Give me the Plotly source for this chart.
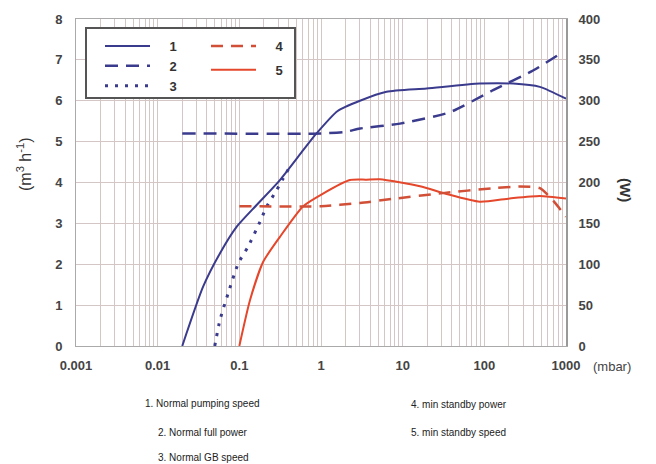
import plotly.graph_objects as go

# ---- data ----
x_tick_vals = [0.001, 0.01, 0.1, 1, 10, 100, 1000]
x_tick_text = ["0.001", "0.01", "0.1", "1", "10", "100", "1000"]

# 1. Normal pumping speed (m3/h, left axis)
s1_x = [0.02, 0.036, 0.058, 0.093, 0.163, 0.314, 0.605, 0.88, 1.6, 3.0, 6.35, 19.6, 88, 225, 478, 1000]
s1_y = [0, 1.45, 2.27, 2.92, 3.45, 4.06, 4.79, 5.2, 5.75, 6.0, 6.22, 6.30, 6.42, 6.42, 6.34, 6.05]

# 2. Normal full power (W, right axis)
s2_x = [0.02, 1, 2, 3, 9.25, 37.8, 128, 395, 800]
s2_y = [260, 260, 262, 266, 272, 286, 313, 337, 356]

# 3. Normal GB speed (m3/h, left axis)
s3_x = [0.05, 0.058, 0.073, 0.097, 0.128, 0.179, 0.216, 0.286, 0.344, 0.42]
s3_y = [0, 0.64, 1.29, 2.02, 2.43, 3.04, 3.41, 3.81, 4.1, 4.4]

# 4. min standby power (W, right axis)
s4_x = [0.1, 1, 3, 7.65, 31, 128, 272, 478, 695, 1000]
s4_y = [171, 171, 175, 180, 187, 193, 195, 193, 178, 158]

# 5. min standby speed (m3/h, left axis)
s5_x = [0.1, 0.135, 0.196, 0.314, 0.605, 1.06, 2.26, 3.6, 5.26, 16.3, 34.4, 88, 205, 478, 1000]
s5_y = [0, 1.12, 2.06, 2.67, 3.42, 3.73, 4.06, 4.07, 4.08, 3.91, 3.72, 3.53, 3.61, 3.67, 3.61]

labels = ["1", "2", "3", "4", "5"]
notes_left = ["1. Normal pumping speed", "2. Normal full power", "3. Normal GB speed"]
notes_right = ["4. min standby power", "5. min standby speed"]

BLUE = "#3b3b8e"
RED = "#e4472b"
RED_D = "#d24f37"
GRID = "#d3c6c4"
FONT = "Liberation Sans, Arial, sans-serif"

# page body has an 8px default margin; work in window pixels and compensate
OFF = 8
L, R, T, B = 76, 566, 19, 346
W_, H_ = 656, 464


def px(xp):
    return (xp - L) / (R - L)


def py(yp):
    return (B - yp) / (B - T)


pad = "\u00a0" * 4

fig = go.Figure()
fig.add_trace(go.Scatter(x=s1_x, y=s1_y, mode="lines", name=pad + labels[0],
                         line=dict(color=BLUE, width=2, shape="spline", smoothing=0.6),
                         legend="legend", legendgroup="g1"))
fig.add_trace(go.Scatter(x=s2_x, y=s2_y, mode="lines", name=pad + labels[1], yaxis="y2",
                         line=dict(color=BLUE, width=2.5, dash="13px,8px", shape="spline", smoothing=0.6),
                         legend="legend", legendgroup="g2"))
fig.add_trace(go.Scatter(x=s3_x, y=s3_y, mode="lines", name=pad + labels[2],
                         line=dict(color=BLUE, width=3, dash="3px,7px", shape="spline", smoothing=0.6),
                         legend="legend", legendgroup="g3"))
fig.add_trace(go.Scatter(x=s4_x, y=s4_y, mode="lines", name=pad + labels[3], yaxis="y2",
                         line=dict(color=RED_D, width=2.5, dash="12px,8px", shape="spline", smoothing=0.6),
                         legend="legend2", legendgroup="g4"))
fig.add_trace(go.Scatter(x=s5_x, y=s5_y, mode="lines", name=pad + labels[4],
                         line=dict(color=RED, width=2, shape="spline", smoothing=0.6),
                         legend="legend2", legendgroup="g5"))

axfont = dict(family=FONT, size=13, color="#444", weight="bold")

fig.update_layout(
    width=W_ - OFF, height=H_ - OFF,
    margin=dict(l=L - OFF, r=W_ - R, t=T - OFF, b=H_ - B, autoexpand=False),
    paper_bgcolor="white", plot_bgcolor="white",
    xaxis=dict(type="log", range=[-3, 3], tickvals=x_tick_vals, ticktext=x_tick_text,
               showgrid=True, gridcolor=GRID, gridwidth=1,
               minor=dict(showgrid=True, gridcolor=GRID, gridwidth=1, dtick="D1", ticks=""),
               showline=True, linecolor="#aaa", linewidth=1, mirror=True,
               zeroline=False, tickfont=axfont, ticks="", ticklabelstandoff=7),
    yaxis=dict(range=[0, 8], dtick=1, showgrid=True, gridcolor=GRID, gridwidth=1,
               showline=True, linecolor="#aaa", linewidth=1, zeroline=False,
               tickfont=axfont, ticks="", ticklabelstandoff=10),
    yaxis2=dict(range=[0, 400], dtick=50, overlaying="y", side="right", showgrid=False,
                showline=True, linecolor="#999", linewidth=2, zeroline=False,
                tickfont=axfont, ticks="", ticklabelstandoff=8),
    legend=dict(x=px(100), y=py(31), xanchor="left", yanchor="top", bgcolor="rgba(0,0,0,0)",
                borderwidth=0, font=dict(family=FONT, size=13, color="#333", weight="bold"),
                itemwidth=45, traceorder="grouped", tracegroupgap=0),
    legend2=dict(x=px(206), y=py(31), xanchor="left", yanchor="top", bgcolor="rgba(0,0,0,0)",
                 borderwidth=0, font=dict(family=FONT, size=13, color="#333", weight="bold"),
                 itemwidth=45, traceorder="grouped", tracegroupgap=4),
    showlegend=True,
)

fig.add_shape(type="rect", xref="paper", yref="paper",
              x0=px(86), x1=px(295), y0=py(98), y1=py(28),
              line=dict(color="#555", width=2), fillcolor="white", layer="above")

ann = []
ann.append(dict(text="(m<sup>3</sup> h<sup>-1</sup>)", x=px(24), y=py(164), textangle=-90,
                font=dict(family=FONT, size=16, color="#333")))
ann.append(dict(text="(W)", x=px(626), y=py(190), textangle=90,
                font=dict(family=FONT, size=15, color="#333", weight="bold")))
ann.append(dict(text="(mbar)", x=px(612), y=py(366),
                font=dict(family=FONT, size=13, color="#444")))
left_pos = [(143, 403), (156, 432), (156, 458)]
for t, (xp, yp) in zip(notes_left, left_pos):
    ann.append(dict(text=t, x=px(xp), y=py(yp), xanchor="left",
                    font=dict(family=FONT, size=10, color="#222")))
right_pos = [(409, 405), (409, 432)]
for t, (xp, yp) in zip(notes_right, right_pos):
    ann.append(dict(text=t, x=px(xp), y=py(yp), xanchor="left",
                    font=dict(family=FONT, size=10, color="#222")))
for a in ann:
    a.update(xref="paper", yref="paper", showarrow=False)
    a.setdefault("xanchor", "center")
    a["yanchor"] = "middle"
fig.update_layout(annotations=ann)

fig.write_html("out.html")
